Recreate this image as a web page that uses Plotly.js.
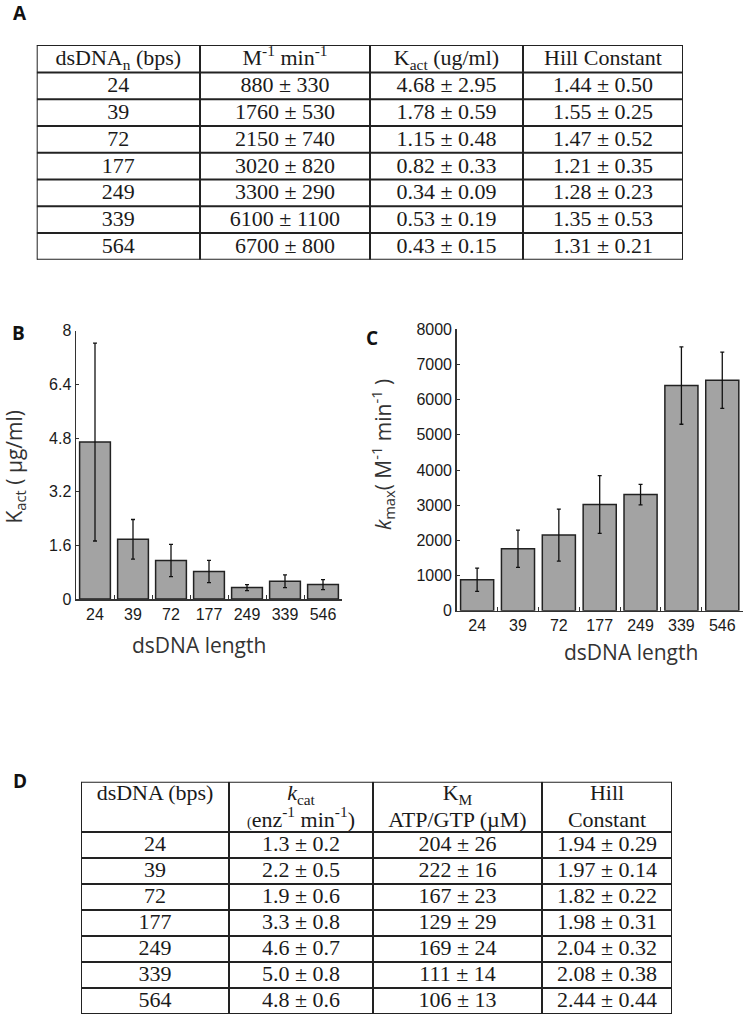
<!DOCTYPE html>
<html>
<head>
<meta charset="utf-8">
<script src="https://cdn.plot.ly/plotly-3.0.1.min.js"></script>
<style>html,body{margin:0;padding:0;background:#fff;}#chart{width:744px;height:1019px;}</style>
</head>
<body>
<div id="chart"></div>
<script>
// ---- Table A data ----
const lengthsA = ["24", "39", "72", "177", "249", "339", "564"];
const kmaxMeanA = [880, 1760, 2150, 3020, 3300, 6100, 6700];
const kmaxErrA = [330, 530, 740, 820, 290, 1100, 800];
const kactMean = [4.68, 1.78, 1.15, 0.82, 0.34, 0.53, 0.43];
const kactErr = [2.95, 0.59, 0.48, 0.33, 0.09, 0.19, 0.15];
const hillMeanA = [1.44, 1.55, 1.47, 1.21, 1.28, 1.35, 1.31];
const hillErrA = [0.50, 0.25, 0.52, 0.35, 0.23, 0.53, 0.21];
const headerA = ["dsDNA<sub>n</sub> (bps)", "M<sup>-1</sup> min<sup>-1</sup>", "K<sub>act</sub> (ug/ml)", "Hill Constant"];

// ---- Bar chart data (B and C) ----
const chartCategories = ["24", "39", "72", "177", "249", "339", "546"];
const kmaxChart = [880, 1760, 2150, 3020, 3300, 6400, 6550];
const kmaxChartErr = [330, 530, 740, 820, 290, 1100, 800];

// ---- Table D data ----
const lengthsD = ["24", "39", "72", "177", "249", "339", "564"];
const kcatMean = [1.3, 2.2, 1.9, 3.3, 4.6, 5.0, 4.8];
const kcatErr = [0.2, 0.5, 0.6, 0.8, 0.7, 0.8, 0.6];
const kmMean = [204, 222, 167, 129, 169, 111, 106];
const kmErr = [26, 16, 23, 29, 24, 14, 13];
const hillMeanD = [1.94, 1.97, 1.82, 1.98, 2.04, 2.08, 2.44];
const hillErrD = [0.29, 0.14, 0.22, 0.31, 0.32, 0.38, 0.44];
const headerD1 = ["dsDNA (bps)", "<i>k</i><sub>cat</sub>", "K<sub>M</sub>", "Hill"];
const headerD2 = ["", "<span style=\"font-size:14px\">(</span>enz<sup>-1</sup> min<sup>-1</sup>)", "ATP/GTP (µM)", "Constant"];

// ---- layout helpers (page pixels) ----
const W = 744, H = 1019;
const px = v => v / W;
const py = v => 1 - v / H;
const pm = (m, e, d) => m.map((v, i) => v.toFixed(d) + " ± " + e[i].toFixed(d));

const serifFont = {family: "Liberation Serif, Times New Roman, serif", size: 22, color: "#1a1a1a"};
const tickFont = {family: "Liberation Sans, Arial, sans-serif", size: 16, color: "#1a1a1a"};
const titleFont = {family: "Open Sans, sans-serif", size: 21, color: "#333"};
const letterFont = {family: "Open Sans, sans-serif", size: 19, color: "#111", weight: 700};

// table geometry (style): column widths and row heights in px
const tA = {left: 36.7, top: 45, cols: [163.3, 170, 153, 160], headH: 27.5, rowH: 26.75};
const tD = {left: 81, top: 781.7, cols: [148, 144, 169, 130], headH: 50.3, rowH: 26.0};

const traces = [];
const shapes = [];
const axes = {};

function buildTable(t, ax, headerLines, columns) {
  const widths = t.cols;
  const edges = [0];
  widths.forEach(w => edges.push(edges[edges.length - 1] + w));
  const totalW = edges[edges.length - 1];
  const nRows = columns[0].length;
  const rowEdges = [0, t.headH];
  for (let r = 0; r < nRows; r++) rowEdges.push(t.headH + (r + 1) * t.rowH);
  const totalH = rowEdges[rowEdges.length - 1];
  const xa = "xaxis" + ax, ya = "yaxis" + ax;
  axes[xa] = {domain: [px(t.left), px(t.left + totalW)], range: [0, totalW], visible: false, anchor: "y" + ax, fixedrange: true};
  axes[ya] = {domain: [py(t.top + totalH), py(t.top)], range: [totalH, 0], visible: false, anchor: "x" + ax, fixedrange: true};
  const centers = widths.map((w, i) => edges[i] + w / 2);
  // header lines (empty entries skipped)
  headerLines.forEach((line, li) => {
    const nL = headerLines.length;
    const yc = t.headH / 2 + (li - (nL - 1) / 2) * 26.5 + 1;
    const idx = line.map((s, i) => i).filter(i => line[i] !== "");
    traces.push({type: "scatter", mode: "text", x: idx.map(i => centers[i]), y: idx.map(() => yc),
      text: idx.map(i => line[i]),
      textposition: "middle center", textfont: serifFont, xaxis: "x" + ax, yaxis: "y" + ax,
      hoverinfo: "none", showlegend: false, cliponaxis: false});
  });
  // body cells
  columns.forEach((col, c) => {
    traces.push({type: "scatter", mode: "text", x: col.map(() => centers[c]),
      y: col.map((v, r) => (rowEdges[r + 1] + rowEdges[r + 2]) / 2 + 1), text: col,
      textposition: "middle center", textfont: serifFont, xaxis: "x" + ax, yaxis: "y" + ax,
      hoverinfo: "none", showlegend: false, cliponaxis: false});
  });
  // grid lines
  rowEdges.forEach(y => shapes.push({type: "line", xref: "x" + ax, yref: "y" + ax, x0: 0, x1: totalW, y0: y, y1: y,
    line: {color: "#222", width: 2}}));
  edges.forEach(x => shapes.push({type: "line", xref: "x" + ax, yref: "y" + ax, x0: x, x1: x, y0: 0, y1: totalH,
    line: {color: "#222", width: 2}}));
}

buildTable(tA, 3, [headerA],
  [lengthsA, pm(kmaxMeanA, kmaxErrA, 0), pm(kactMean, kactErr, 2), pm(hillMeanA, hillErrA, 2)]);
buildTable(tD, 4, [headerD1, headerD2],
  [lengthsD, pm(kcatMean, kcatErr, 1), pm(kmMean, kmErr, 0), pm(hillMeanD, hillErrD, 2)]);

const barStyle = {color: "#a3a3a3", line: {color: "#222", width: 1.5}};
const errStyle = {type: "data", color: "#111", thickness: 1.3, width: 2};

traces.push({
  type: "bar", x: chartCategories, y: kactMean, xaxis: "x", yaxis: "y",
  marker: barStyle, error_y: Object.assign({array: kactErr}, errStyle), showlegend: false, hoverinfo: "none"
});
traces.push({
  type: "bar", x: chartCategories, y: kmaxChart, xaxis: "x2", yaxis: "y2",
  marker: barStyle, error_y: Object.assign({array: kmaxChartErr}, errStyle), showlegend: false, hoverinfo: "none"
});

const xCommon = {type: "category", range: [-0.5, 6.5], showline: true, linecolor: "#333", linewidth: 1.5,
  ticks: "inside", ticklen: 4, tickcolor: "#333", tickson: "boundaries", tickfont: tickFont,
  showgrid: false, zeroline: false, fixedrange: true};
const yCommon = {showline: true, linecolor: "#333", linewidth: 1.5, ticks: "inside", ticklen: 3,
  tickcolor: "#333", tickfont: tickFont, showgrid: false, zeroline: false, fixedrange: true};

const ann = (text, x, y, font, extra) => Object.assign({text: text, x: px(x), y: py(y), xref: "paper", yref: "paper",
  xanchor: "center", yanchor: "middle", showarrow: false, font: font}, extra || {});

const layout = Object.assign({
  width: W, height: H,
  margin: {l: 0, r: 0, t: 0, b: 0},
  paper_bgcolor: "#fff", plot_bgcolor: "rgba(0,0,0,0)",
  bargap: 0.19,
  xaxis: Object.assign({}, xCommon, {domain: [px(76), px(342)], anchor: "y"}),
  yaxis: Object.assign({}, yCommon, {domain: [py(599), py(330.7)], anchor: "x", range: [0, 8], tick0: 0, dtick: 1.6}),
  xaxis2: Object.assign({}, xCommon, {domain: [px(456.7), px(742.7)], anchor: "y2"}),
  yaxis2: Object.assign({}, yCommon, {domain: [py(610.7), py(329.3)], anchor: "x2", range: [0, 8000], tick0: 0, dtick: 1000}),
  shapes: shapes,
  annotations: [
    ann("A", 19.5, 13.5, letterFont),
    ann("B", 18.3, 332.5, letterFont),
    ann("C", 372, 338.3, letterFont),
    ann("D", 19.5, 780.5, letterFont),
    ann("K<sub>act</sub> ( µg/ml)", 14.5, 467, titleFont, {textangle: -90}),
    ann("dsDNA length", 199, 645, titleFont),
    ann("<i>k</i><sub>max</sub>( M<sup>-1</sup> min<sup>-1</sup> )", 382, 455, titleFont, {textangle: -90}),
    ann("dsDNA length", 631, 652, titleFont)
  ]
}, axes);

Plotly.newPlot("chart", traces, layout, {staticPlot: true, displayModeBar: false});
</script>
</body>
</html>
